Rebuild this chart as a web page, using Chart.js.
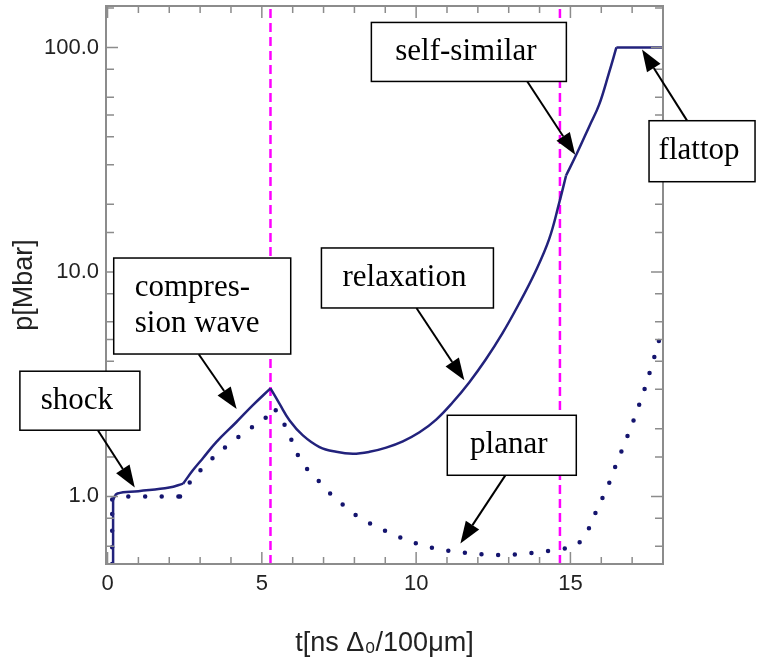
<!DOCTYPE html>
<html>
<head>
<meta charset="utf-8">
<script src="https://cdn.jsdelivr.net/npm/chart.js@4/dist/chart.umd.min.js"></script>
<style>
  html, body { margin: 0; padding: 0; background: #fff; }
</style>
</head>
<body>
<canvas id="chart" width="770" height="664"></canvas>
<script>
// spherical case (solid line)
const solidT = [0.18, 0.18, 0.32, 1.0, 2.0, 2.45, 2.77, 3.09, 3.53, 4.17, 4.71, 5.28,
  5.57, 5.90, 6.33, 6.87, 7.41, 7.95, 8.49, 9.03, 9.57, 10.11, 10.65, 11.18, 11.72,
  12.25, 12.79, 13.32, 13.86, 14.31, 14.64, 14.86, 15.2, 15.61, 15.93, 16.25, 16.49, 18.0];
const solidP = [0.5, 0.97, 1.03, 1.055, 1.095, 1.14, 1.31, 1.48, 1.75, 2.14, 2.55, 3.03,
  2.59, 2.18, 1.87, 1.66, 1.58, 1.55, 1.58, 1.65, 1.76, 1.93, 2.2, 2.62, 3.22,
  4.06, 5.31, 7.16, 10.0, 14.0, 20.4, 26.9, 33.5, 44.5, 55.6, 77.1, 100, 100];
// indices where the solid curve has a corner
const solidCorners = [1, 5, 11, 31, 36];

// planar case (dotted line)
const planarT = [0.15, 0.15, 0.3, 0.7, 1.2, 1.8, 2.35, 2.61, 3.33, 4.15, 4.58, 5.04, 5.45,
  5.71, 5.93, 6.3, 6.82, 7.17, 7.57, 7.98, 8.43, 8.92, 9.40, 9.89, 10.41, 10.94, 11.46,
  11.99, 12.51, 13.05, 13.58, 14.10, 14.66, 15.16, 15.50, 15.72, 15.93, 16.17, 16.36,
  16.56, 16.76, 16.96, 17.14, 17.4, 17.7, 17.95];
const planarP = [0.5, 0.97, 0.99, 1.0, 1.0, 1.0, 1.0, 1.13, 1.45, 1.80, 1.99, 2.20, 2.42,
  2.12, 1.82, 1.42, 1.18, 1.045, 0.933, 0.837, 0.768, 0.71, 0.663, 0.625, 0.596, 0.576, 0.564,
  0.555, 0.549, 0.549, 0.557, 0.567, 0.582, 0.604, 0.681, 0.789, 0.921, 1.07, 1.26,
  1.47, 1.73, 2.03, 2.37, 3.0, 4.1, 5.4];
const planarCorners = [1, 6, 12];

// vertical dashed markers
const markerTimes = [5.28, 14.66];

// axes
const xMin = -0.05, xMax = 18;
const yMin = 0.5, yMax = 153;
const xTickValues = [0, 5, 10, 15];
const yTickValues = [1, 10, 100];
const yMinorValues = [0.6, 0.8, 1.5, 2, 3, 4, 5, 6, 8, 15, 20, 30, 40, 50, 60, 80, 150];

// callout boxes: label anchor, arrow tail and tip in data units (t, p)
const callouts = [
  { lines: ['shock'], at: [-0.896, 2.669], w: 120, h: 59, tail: [-0.314, 1.971], tip: [0.883, 1.097] },
  { lines: ['compres-', 'sion wave'], at: [3.068, 7.05], w: 177, h: 96, tail: [2.955, 4.30], tip: [4.184, 2.45], left: true },
  { lines: ['relaxation'], at: [9.718, 9.40], w: 172, h: 60, tail: [10.01, 6.91], tip: [11.563, 3.29] },
  { lines: ['self-similar'], at: [11.709, 95.5], w: 195, h: 59, tail: [13.602, 70.5], tip: [15.155, 33.3] },
  { lines: ['flattop'], at: [19.265, 34.5], w: 106, h: 61, tail: [18.78, 47.2], tip: [17.32, 98.0] },
  { lines: ['planar'], at: [13.10, 1.69], w: 129, h: 60, tail: [12.89, 1.241], tip: [11.434, 0.617] }
];

// cut a series into smooth pieces that meet at the corner points
function pieces(xs, ys, corners) {
  const cuts = [0, ...corners, xs.length - 1];
  const out = [];
  for (let k = 0; k < cuts.length - 1; k++) {
    const seg = [];
    for (let i = cuts[k]; i <= cuts[k + 1]; i++) seg.push({ x: xs[i], y: ys[i] });
    out.push(seg);
  }
  return out;
}

const datasets = markerTimes.map(t => ({
  data: [{ x: t, y: yMin }, { x: t, y: yMax }],
  borderColor: '#ff00ff',
  borderWidth: 2.5,
  borderDash: [9, 5],
  pointRadius: 0,
  order: 3
}));
pieces(planarT, planarP, planarCorners).forEach(seg => datasets.push({
  data: seg,
  borderColor: '#14146e',
  borderWidth: 4.5,
  borderDash: [0, 16.7],
  borderCapStyle: 'round',
  tension: 0.4,
  pointRadius: 0,
  order: 2
}));
pieces(solidT, solidP, solidCorners).forEach(seg => datasets.push({
  data: seg,
  borderColor: '#22227c',
  borderWidth: 2.5,
  tension: 0.4,
  pointRadius: 0,
  order: 1
}));

// box frame with inward ticks on all four sides
const frame = {
  id: 'frame',
  afterDatasetsDraw(chart) {
    const { ctx, chartArea: a, scales: { x, y } } = chart;
    ctx.save();
    ctx.strokeStyle = '#8c8c8c';
    ctx.lineWidth = 2;
    ctx.strokeRect(a.left, a.top, a.right - a.left, a.bottom - a.top);
    ctx.lineWidth = 1.5;
    ctx.beginPath();
    for (let t = 0; t <= 18; t++) {
      const px = x.getPixelForValue(t);
      const len = t % 5 === 0 ? 12 : 7;
      ctx.moveTo(px, a.bottom); ctx.lineTo(px, a.bottom - len);
      ctx.moveTo(px, a.top); ctx.lineTo(px, a.top + len);
    }
    yTickValues.concat(yMinorValues).forEach(v => {
      const py = y.getPixelForValue(v);
      const len = yTickValues.includes(v) ? 12 : 8;
      ctx.moveTo(a.left, py); ctx.lineTo(a.left + len, py);
      ctx.moveTo(a.right, py); ctx.lineTo(a.right - len, py);
    });
    ctx.stroke();
    ctx.restore();
  }
};

const labels = {
  id: 'callouts',
  afterDraw(chart) {
    const { ctx, scales: { x, y } } = chart;
    const px = p => [x.getPixelForValue(p[0]), y.getPixelForValue(p[1])];
    ctx.save();
    callouts.forEach(c => {
      const [cx, cy] = px(c.at);
      const [sx, sy] = px(c.tail);
      const [ex, ey] = px(c.tip);
      // arrow
      const ang = Math.atan2(ey - sy, ex - sx);
      const head = 22, half = 8;
      const bx = ex - head * Math.cos(ang), by = ey - head * Math.sin(ang);
      ctx.strokeStyle = '#000';
      ctx.lineWidth = 2;
      ctx.beginPath();
      ctx.moveTo(sx, sy); ctx.lineTo(bx, by);
      ctx.stroke();
      ctx.fillStyle = '#000';
      ctx.beginPath();
      ctx.moveTo(ex, ey);
      ctx.lineTo(bx + half * Math.sin(ang), by - half * Math.cos(ang));
      ctx.lineTo(bx - half * Math.sin(ang), by + half * Math.cos(ang));
      ctx.closePath();
      ctx.fill();
      // box
      ctx.fillStyle = '#fff';
      ctx.fillRect(cx - c.w / 2, cy - c.h / 2, c.w, c.h);
      ctx.lineWidth = 1.5;
      ctx.strokeRect(cx - c.w / 2, cy - c.h / 2, c.w, c.h);
      // text
      ctx.fillStyle = '#000';
      ctx.font = '31px "Liberation Serif", "Times New Roman", serif';
      ctx.textBaseline = 'middle';
      const lh = 36;
      c.lines.forEach((s, i) => {
        const ty = cy + (i - (c.lines.length - 1) / 2) * lh;
        if (c.left) {
          ctx.textAlign = 'left';
          ctx.fillText(s, cx - c.w / 2 + 21, ty);
        } else {
          ctx.textAlign = 'center';
          ctx.fillText(s, cx - 3, ty);
        }
      });
    });
    ctx.restore();
  }
};

const sans = '"Liberation Sans", Arial, Helvetica, sans-serif';

new Chart(document.getElementById('chart'), {
  type: 'line',
  data: { datasets },
  options: {
    responsive: false,
    animation: false,
    layout: { padding: { left: 0, right: 107, top: 6, bottom: 0 } },
    plugins: { legend: { display: false }, tooltip: { enabled: false } },
    scales: {
      x: {
        type: 'linear',
        min: xMin,
        max: xMax,
        grid: { display: false, drawTicks: false },
        border: { display: false },
        afterBuildTicks: s => { s.ticks = xTickValues.map(v => ({ value: v })); },
        afterFit: s => { s.height = 100; s.paddingLeft = 0; s.paddingRight = 0; },
        ticks: {
          padding: 7,
          maxRotation: 0,
          color: '#222',
          font: { family: sans, size: 22 },
          callback: v => String(v)
        },
        title: {
          display: true,
          text: 't[ns Δ₀/100μm]',
          color: '#222',
          font: { family: sans, size: 27 },
          padding: { top: 0, bottom: 4 }
        }
      },
      y: {
        type: 'logarithmic',
        min: yMin,
        max: yMax,
        grid: { display: false, drawTicks: false },
        border: { display: false },
        afterBuildTicks: s => { s.ticks = yTickValues.map(v => ({ value: v })); },
        afterFit: s => { s.width = 106; s.paddingTop = 0; s.paddingBottom = 0; },
        ticks: {
          padding: 7,
          color: '#222',
          font: { family: sans, size: 22 },
          callback: v => Number(v).toFixed(1)
        },
        title: {
          display: true,
          text: 'p[Mbar]',
          color: '#222',
          font: { family: sans, size: 27 },
          padding: { top: 8, bottom: 0 }
        }
      }
    }
  },
  plugins: [frame, labels]
});
</script>
</body>
</html>
